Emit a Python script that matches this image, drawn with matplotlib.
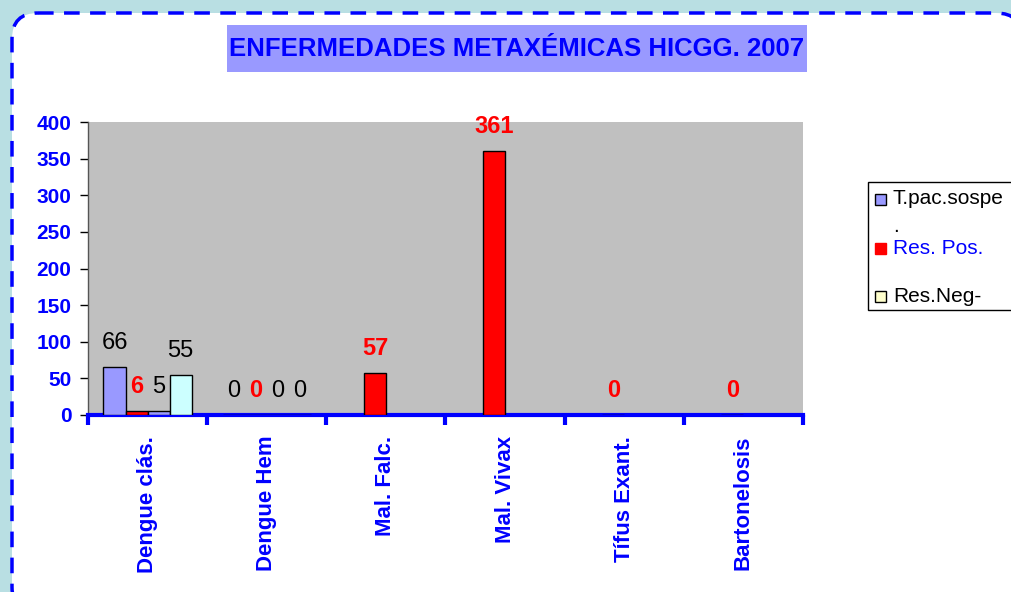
import numpy as np
import matplotlib.pyplot as plt
from matplotlib.patches import FancyBboxPatch, Rectangle

plt.rcParams['font.family'] = ['Liberation Sans', 'DejaVu Sans']

categories = ["Dengue clás.", "Dengue Hem", "Mal. Falc.", "Mal. Vivax", "Tífus Exant.", "Bartonelosis"]
t_pac = [66, 0, np.nan, np.nan, np.nan, np.nan]
res_pos = [6, 0, 57, 361, 0, 0]
serie3 = [5, 0, np.nan, np.nan, np.nan, np.nan]
res_neg = [55, 0, np.nan, np.nan, np.nan, np.nan]
y_ticks = [0, 50, 100, 150, 200, 250, 300, 350, 400]

W, H = 1012, 592
fig = plt.figure(figsize=(W / 100, H / 100), dpi=100)
fig.patch.set_facecolor("#B9DFE3")

# background frame (pixel coordinates)
bg = fig.add_axes([0, 0, 1, 1])
bg.set_xlim(0, W)
bg.set_ylim(H, 0)
bg.axis("off")
bg.add_patch(FancyBboxPatch((12, 13), 1010, 600, boxstyle="round,pad=0,rounding_size=26",
                            facecolor="white", edgecolor="#0000FF", lw=2.5,
                            linestyle=(0, (4.5, 3))))
bg.add_patch(Rectangle((227, 25), 580, 47, facecolor="#9999FF", edgecolor="none"))
bg.text(517, 49, "ENFERMEDADES METAXÉMICAS HICGG. 2007", color="#0000FF",
        fontsize=18.5, fontweight="bold", ha="center", va="center")

# legend drawn by hand
bg.add_patch(Rectangle((868, 182), 200, 128, facecolor="white", edgecolor="black", lw=1))
leg = [("T.pac.sospe", "#9999FF", 199, "black", "black"),
       ("Res. Pos.", "#FF0000", 248, "#0000FF", "#FF0000"),
       ("Res.Neg-", "#FFFFCC", 296, "black", "black")]
for name, fc, y, tc, ec in leg:
    bg.add_patch(Rectangle((875, y - 5), 11, 11, facecolor=fc, edgecolor=ec, lw=1))
    bg.text(893, y, name, fontsize=15, color=tc, va="center", ha="left")
bg.text(893, 227, ".", fontsize=15, color="black", va="center", ha="left")

# main chart
ax = fig.add_axes([88 / W, (H - 415) / H, (803 - 88) / W, (415 - 122) / H])
ax.set_facecolor("#C0C0C0")
x = np.arange(len(categories))
w = 0.185
series = [(t_pac, "#9999FF", "regular", "black"),
          (res_pos, "#FF0000", "bold", "#FF0000"),
          (serie3, "#9999FF", "regular", "black"),
          (res_neg, "#CCFFFF", "regular", "black")]
for i, (vals, col, fw, lc) in enumerate(series):
    pos = x + (i - 1.5) * w
    ax.bar(pos, vals, width=w, color=col, edgecolor="black", lw=1, zorder=3)
    for px, v in zip(pos, vals):
        if np.isnan(v):
            continue
        ax.annotate(f"{v:.0f}", (px, v), xytext=(0, 13), textcoords="offset points",
                    ha="center", va="baseline", fontsize=17, fontweight=fw, color=lc)

ax.set_xlim(-0.5, len(categories) - 0.5)
ax.set_ylim(0, 400)
ax.set_yticks(y_ticks)
ax.set_yticklabels([str(t) for t in y_ticks], color="#0000FF", fontsize=15, fontweight="bold")
ax.tick_params(axis="y", length=6, width=1, color="black", pad=6)
ax.set_xticks(x)
ax.set_xticklabels(categories, rotation=90, color="#0000FF", fontsize=16, fontweight="bold",
                   va="top")
ax.tick_params(axis="x", length=0, pad=15)
ax.set_xticks(np.arange(-0.5, len(categories)), minor=True)
ax.tick_params(axis="x", which="minor", length=7, width=3, color="#0000FF")
for s in ["top", "right"]:
    ax.spines[s].set_visible(False)
ax.spines["left"].set_color("#555555")
ax.spines["left"].set_linewidth(1)
ax.spines["bottom"].set_color("#0000FF")
ax.spines["bottom"].set_linewidth(3)

fig.savefig("out.png", dpi=100)
